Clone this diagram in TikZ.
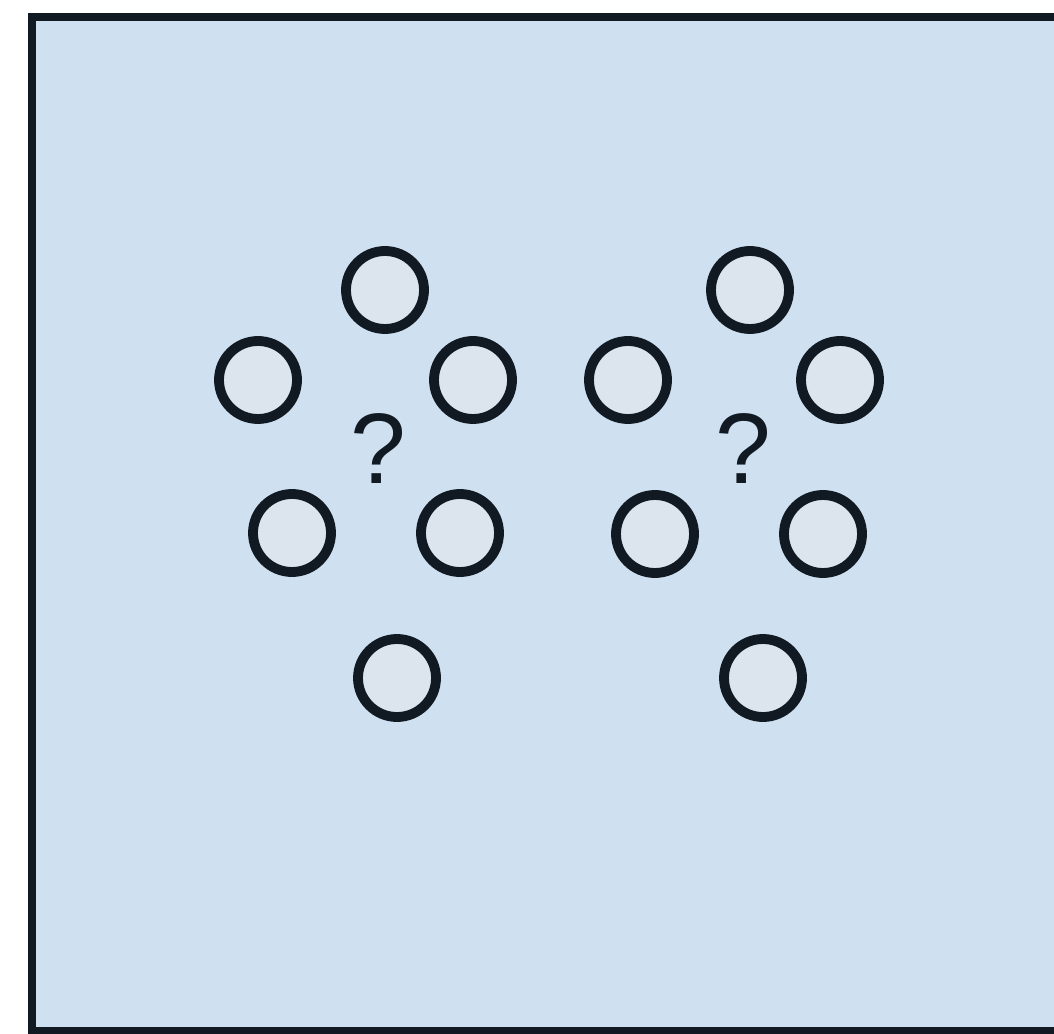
\documentclass[tikz,border=0pt]{standalone}
\usepackage{fontspec}
\setmainfont{Liberation Sans}
\usepackage{tikz}
\usetikzlibrary{positioning}
\definecolor{Dark}{HTML}{111A22}
\definecolor{Panel}{HTML}{CFE0F1}
\definecolor{Dot}{HTML}{DCE5EE}
\tikzset{
    panel/.style={draw=Dark, fill=Panel, line width=2.3pt},
    dotnode/.style={circle, draw=Dark, fill=Dot, line width=2.8pt, minimum size=0.78cm, inner sep=0pt},
    asknode/.style={text=Dark, anchor=base, inner sep=0pt, font=\fontsize{28.5}{28.5}\selectfont},
}
\begin{document}
\begin{tikzpicture}
    \useasboundingbox (0,0) rectangle (10.54,10.33);
    \clip (0,0) rectangle (10.54,10.33);
    % Sfondo
    \draw[panel] (0.32,0.02) rectangle (10.8,10.16);

    % Gruppo sinistro
    \node[dotnode] (lt) at (3.85, 7.43) {};
    \node[dotnode] (ll) at (2.58, 6.53) {};
    \node[dotnode] (lr) at (4.73, 6.53) {};
    \node[dotnode] (lbl) at (2.92, 5.00) {};
    \node[dotnode] (lbr) at (4.60, 5.00) {};
    \node[dotnode] (lb) at (3.97, 3.55) {};
    \node[asknode] (lq) at (3.78, 5.50) {?};

    % Gruppo destro
    \node[dotnode] (rt) at (7.50, 7.43) {};
    \node[dotnode] (rl) at (6.28, 6.53) {};
    \node[dotnode] (rr) at (8.40, 6.53) {};
    \node[dotnode] (rbl) at (6.55, 4.99) {};
    \node[dotnode] (rbr) at (8.23, 4.99) {};
    \node[dotnode] (rb) at (7.63, 3.55) {};
    \node[asknode] (rq) at (7.43, 5.50) {?};
\end{tikzpicture}
\end{document}
